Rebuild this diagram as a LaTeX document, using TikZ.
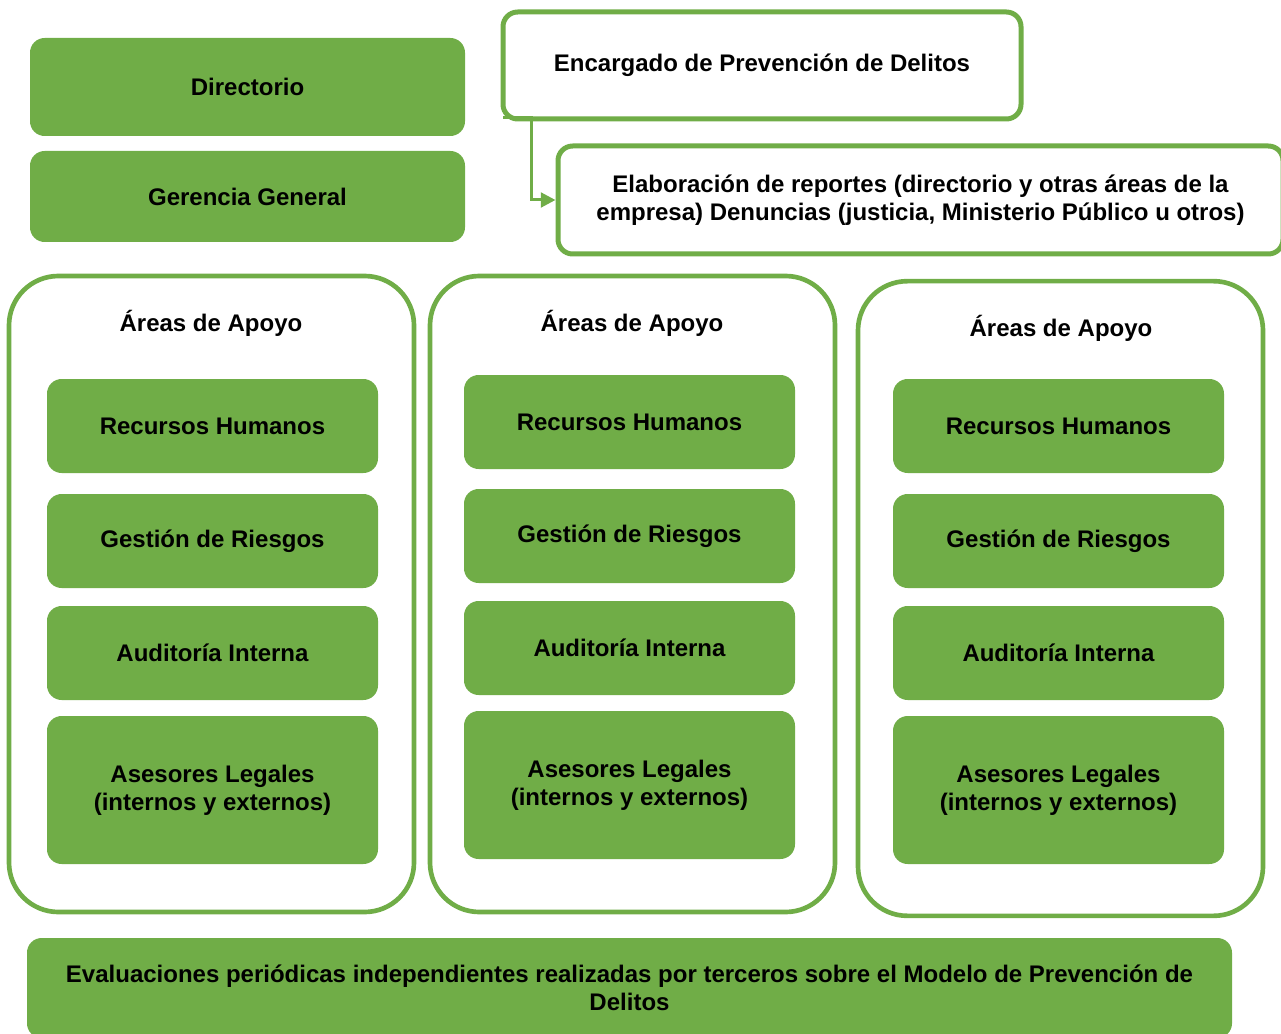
\documentclass[tikz,border=0pt]{standalone}
\usepackage{fontspec}
\setmainfont{Liberation Sans}
\usepackage{tikz}
\usetikzlibrary{positioning, arrows.meta}
\definecolor{verde}{HTML}{70AD47}
\tikzset{
  every node/.style={font=\bfseries\fontsize{18}{21}\selectfont, align=center},
  caja/.style={fill=verde, rounded corners=11pt, inner sep=0pt},
  marco/.style={draw=verde, line width=3.75pt, fill=white, rounded corners=11pt, inner sep=0pt},
  grupo/.style={draw=verde, line width=3.5pt, fill=white, rounded corners=37pt, inner sep=0pt},
  area/.style={caja, minimum width=248.25pt, minimum height=70.5pt},
  legal/.style={caja, minimum width=248.25pt, minimum height=111pt}
}

\begin{document}
\begin{tikzpicture}[x=0.75pt, y=-0.75pt]
 \useasboundingbox (0,0) rectangle (1281,1034);
 % arriba
 \node[caja, minimum width=326.25pt, minimum height=73.5pt] (dir) at (247.5,87) {Directorio};
 \node[caja, minimum width=326.25pt, minimum height=68.25pt] (ger) at (247.5,196.5) {Gerencia General};
 \node[marco, minimum width=388.5pt, minimum height=80.25pt] (epd) at (762,65.5) {Encargado de Prevenci\'on de Delitos};
 \node[marco, minimum width=543.75pt, minimum height=81pt] (rep) at (920.5,200) {Elaboraci\'on de reportes (directorio y otras \'areas de la\\empresa) Denuncias (justicia, Ministerio P\'ublico u otros)};
 \coordinate (esq) at (503,118);
 \draw[verde, line width=2.25pt, -{Triangle[length=11pt, width=11pt]}] (esq) -- (531,118) |- (rep.west);
 % columnas
 \node[grupo, minimum width=303.75pt, minimum height=477pt] (g1) at (211.5,594) {};
 \node[grupo, minimum width=303.75pt, minimum height=477pt] (g2) at (632.5,594) {};
 \node[grupo, minimum width=303.75pt, minimum height=476pt] (g3) at (1060.5,598.5) {};
 \node (t1) at (211,323) {\'Areas de Apoyo};
 \node (t2) at (632,323) {\'Areas de Apoyo};
 \node (t3) at (1061,328) {\'Areas de Apoyo};
 \node[area] (rh1) at (212.5,426) {Recursos Humanos};
 \node[area] (gr1) at (212.5,541) {Gesti\'on de Riesgos};
 \node[area] (ai1) at (212.5,653) {Auditor\'ia Interna};
 \node[legal] (al1) at (212.5,790) {Asesores Legales\\(internos y externos)};
 \node[area] (rh2) at (629.5,422) {Recursos Humanos};
 \node[area] (gr2) at (629.5,536) {Gesti\'on de Riesgos};
 \node[area] (ai2) at (629.5,648) {Auditor\'ia Interna};
 \node[legal] (al2) at (629.5,785) {Asesores Legales\\(internos y externos)};
 \node[area] (rh3) at (1058.5,426) {Recursos Humanos};
 \node[area] (gr3) at (1058.5,541) {Gesti\'on de Riesgos};
 \node[area] (ai3) at (1058.5,653) {Auditor\'ia Interna};
 \node[legal] (al3) at (1058.5,790) {Asesores Legales\\(internos y externos)};
 % abajo
 \node[caja, minimum width=903.75pt, minimum height=75pt] (eva) at (629.5,988) {Evaluaciones peri\'odicas independientes realizadas por terceros sobre el Modelo de Prevenci\'on de\\Delitos};
\end{tikzpicture}
\end{document}
